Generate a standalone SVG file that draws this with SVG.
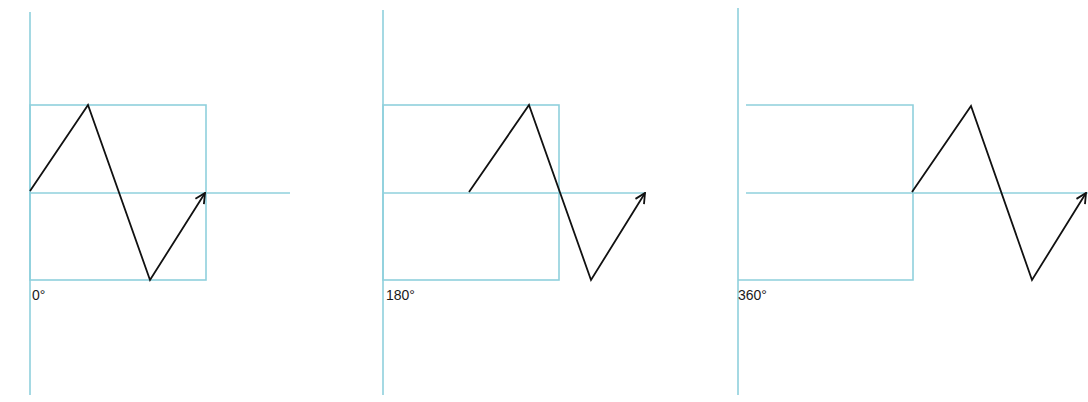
<svg xmlns="http://www.w3.org/2000/svg" width="1088" height="402" viewBox="0 0 1088 402">
<style>
.ax{stroke:#8fd0dc;stroke-width:1.6;fill:none}
.w{stroke:#111;stroke-width:1.8;fill:none;stroke-linejoin:miter}
.t{font-family:"Liberation Sans",Arial,sans-serif;font-size:14px;fill:#1a1a1a}
</style>
<defs>
<marker id="ah" viewBox="0 0 12 12" refX="11" refY="6" markerWidth="12" markerHeight="12" markerUnits="userSpaceOnUse" orient="auto">
<path d="M1,1 L11,6 L1,11" fill="none" stroke="#111" stroke-width="1.8"/>
</marker>
</defs>
<rect width="1088" height="402" fill="#fff"/>
<g id="panel1">
<line class="ax" x1="30" y1="12" x2="30" y2="395"/>
<rect class="ax" x="30" y="105" width="176" height="175"/>
<line class="ax" x1="30" y1="193" x2="290" y2="193"/>
<text class="t" x="32" y="300">0°</text>
</g>
<g id="panel2">
<line class="ax" x1="383" y1="10" x2="383" y2="395"/>
<rect class="ax" x="383" y="105" width="176" height="175"/>
<line class="ax" x1="383" y1="193" x2="645" y2="193"/>
<text class="t" x="386" y="300">180°</text>
</g>
<g id="panel3">
<line class="ax" x1="738" y1="8" x2="738" y2="395"/>
<polyline class="ax" points="746,105 913,105 913,280 738,280"/>
<line class="ax" x1="746" y1="193" x2="1088" y2="193"/>
<text class="t" x="738" y="300">360°</text>
</g>
<g id="connectors">
<polyline class="w" points="30,191 88,105 150,280 205,193" marker-end="url(#ah)"/>
<polyline class="w" points="469,192 529,105 591,280 645,193" marker-end="url(#ah)"/>
<polyline class="w" points="912,192 971,106 1032,280 1086,193" marker-end="url(#ah)"/>
</g>
</svg>
